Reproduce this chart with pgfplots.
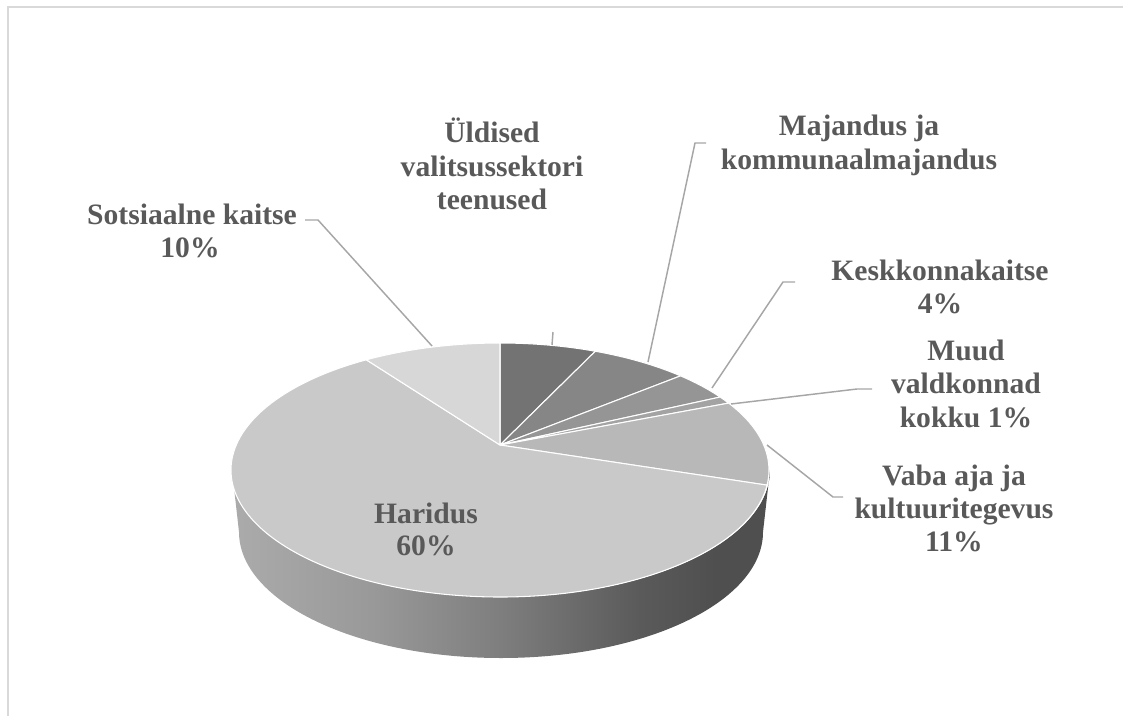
\documentclass[border=0pt]{standalone}
\usepackage{fontspec}
\setmainfont{Liberation Serif}
\usepackage{pgfplots}
\usepackage{pgfplotstable}
\pgfplotsset{compat=1.18}
\definecolor{lbl}{HTML}{595959}
\definecolor{lead}{HTML}{A6A6A6}
\definecolor{frm}{HTML}{D9D9D9}
\definecolor{cA}{HTML}{737373}
\definecolor{cB}{HTML}{868686}
\definecolor{cC}{HTML}{959595}
\definecolor{cD}{HTML}{A3A3A3}
\definecolor{cE}{HTML}{B8B8B8}
\definecolor{cF}{HTML}{C9C9C9}
\definecolor{cG}{HTML}{D7D7D7}
\definecolor{sA}{HTML}{ABABAB}
\definecolor{sB}{HTML}{999999}
\definecolor{sC}{HTML}{7E7E7E}
\definecolor{sD}{HTML}{5A5A5A}
\definecolor{sE}{HTML}{4F4F4F}
\pgfdeclarehorizontalshading{sideshade}{100bp}{color(0bp)=(sA); color(25bp)=(sA); color(38bp)=(sB); color(50bp)=(sC); color(63bp)=(sD); color(70bp)=(sE); color(100bp)=(sE)}

\pgfplotstableread{
name value
Uldised 7
Majandus 7
Keskkond 4
Muud 1
Vaba 11
Haridus 60
Sotsiaal 10
}\piedata

\newcommand\ps[1]{\csname psiA#1\endcsname}
\newcommand\slice[3]{% from boundary #1 to #2, colour #3
  \fill[#3, draw=white, line width=0.8pt] (500,445) --
    ({500+269*cos(\ps{#1})},{470-127*sin(\ps{#1})})
    arc[start angle=\ps{#1}, end angle=\ps{#2}, x radius=201.75pt, y radius=95.25pt] -- cycle;}
\tikzset{lab/.style={anchor=base, inner sep=0pt, text=lbl, font=\fontsize{22.2}{26}\selectfont\bfseries}}

\begin{document}
\begin{tikzpicture}
\pgfmathsetmacro\bet{0.197}
\pgfmathsetmacro\gam{1/sqrt(1-\bet*\bet)}
\xdef\gam{\gam}\xdef\bet{\bet}
\gdef\cum{0}
\gdef\prevpsi{90}
\expandafter\gdef\csname psiA0\endcsname{90}
\foreach \i in {0,...,6}{%
  \pgfplotstablegetelem{\i}{value}\of\piedata
  \pgfmathsetmacro\newcum{\cum+\pgfplotsretval}%
  \xdef\cum{\newcum}%
  \pgfmathsetmacro\myph{90-3.6*\cum}%
  \pgfmathsetmacro\myps{atan2(\gam*(sin(\myph)+\bet),cos(\myph))}%
  \pgfmathsetmacro\myps{\myps-360*(\myps>\prevpsi+0.001)}%
  \xdef\prevpsi{\myps}%
  \pgfmathtruncatemacro\j{\i+1}%
  \expandafter\xdef\csname psiA\j\endcsname{\myps}%
}
\begin{axis}[
  width=842.25pt, height=537pt, scale only axis,
  xmin=0, xmax=1123, ymin=0, ymax=716, y dir=reverse,
  hide axis, clip=false]
% frame
\draw[frm, line width=1.2pt] (8,716) -- (8,7) -- (1123,7);
% side wall
\shade[shading=sideshade] (232,470) arc[start angle=180, end angle=360, x radius=201.75pt, y radius=95.25pt]
  -- (763,532) arc[start angle=0, end angle=-180, x radius=196.5pt, y radius=94.5pt] -- cycle;
% top face slices
\slice{0}{1}{cA}
\slice{1}{2}{cB}
\slice{2}{3}{cC}
\slice{3}{4}{cD}
\slice{4}{5}{cE}
\slice{5}{6}{cF}
\slice{6}{7}{cG}
% leader lines
\draw[lead, line width=1.1pt] (305,220) -- (318,220) -- (432,346);
\draw[lead, line width=1.1pt] (553,332) -- (552,345);
\draw[lead, line width=1.1pt] (706,143) -- (695,143) -- (648,362);
\draw[lead, line width=1.1pt] (795,282) -- (783,282) -- (712,388);
\draw[lead, line width=1.1pt] (872,389) -- (857,389) -- (731,404);
\draw[lead, line width=1.1pt] (843,497) -- (833,497) -- (767,445);
% labels
\node[lab] at (492,143) {Üldised};
\node[lab] at (492,177) {valitsussektori};
\node[lab] at (492,210) {teenused};
\node[lab] at (859,136) {Majandus ja};
\node[lab] at (859,170) {kommunaalmajandus};
\node[lab] at (940,281) {Keskkonnakaitse};
\node[lab] at (940,314) {4\%};
\node[lab] at (966,360) {Muud};
\node[lab] at (966,393) {valdkonnad};
\node[lab] at (966,427) {kokku 1\%};
\node[lab] at (954,485) {Vaba aja ja};
\node[lab] at (954,518) {kultuuritegevus};
\node[lab] at (954,551) {11\%};
\node[lab] at (192,225) {Sotsiaalne kaitse};
\node[lab] at (190,258) {10\%};
\node[lab] at (426,523) {Haridus};
\node[lab] at (426,555) {60\%};
\end{axis}
\pgfresetboundingbox
\path[use as bounding box] (current axis.south west) rectangle (current axis.north east);
\end{tikzpicture}
\end{document}
